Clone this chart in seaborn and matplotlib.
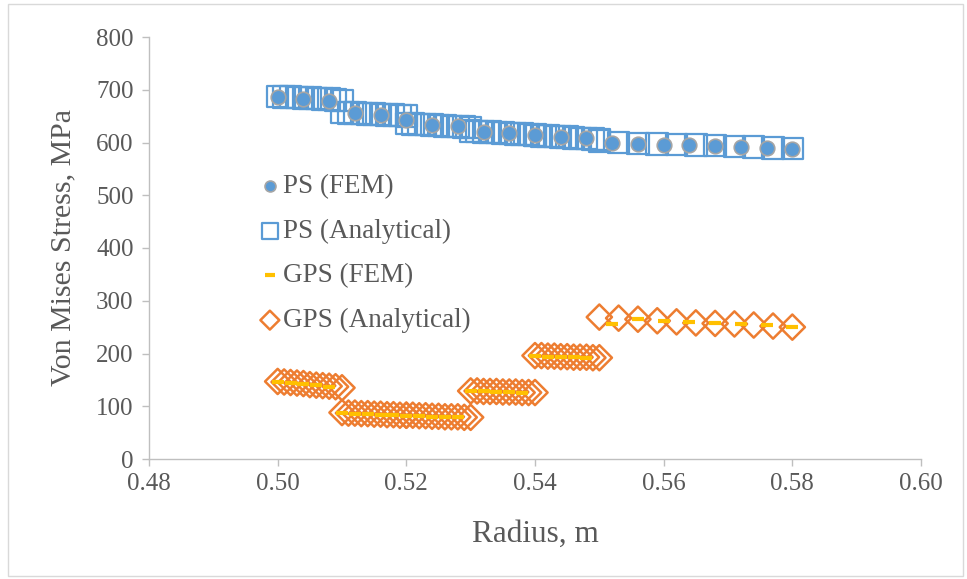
import matplotlib
matplotlib.use("Agg")
import matplotlib.pyplot as plt
import seaborn as sns
import pandas as pd
from matplotlib.patches import Rectangle

# ---------------- data ----------------
ps_fem_x = [0.500, 0.504, 0.508, 0.512, 0.516, 0.520, 0.524, 0.528, 0.532, 0.536, 0.540,
            0.544, 0.548, 0.552, 0.556, 0.560, 0.564, 0.568, 0.572, 0.576, 0.580]
ps_fem_y = [686, 683, 679, 655, 653, 643, 633, 631, 620, 618, 614,
            611, 608, 600, 598, 596, 595, 594, 591, 590, 588]

ana_x = [0.500, 0.501, 0.502, 0.503, 0.504, 0.505, 0.506, 0.507, 0.508, 0.509, 0.510,
         0.510, 0.511, 0.512, 0.513, 0.514, 0.515, 0.516, 0.517, 0.518, 0.519, 0.520,
         0.520, 0.521, 0.522, 0.523, 0.524, 0.525, 0.526, 0.527, 0.528, 0.529, 0.530,
         0.530, 0.531, 0.532, 0.533, 0.534, 0.535, 0.536, 0.537, 0.538, 0.539, 0.540,
         0.540, 0.541, 0.542, 0.543, 0.544, 0.545, 0.546, 0.547, 0.548, 0.549, 0.550,
         0.550, 0.553, 0.556, 0.559, 0.562, 0.565, 0.568, 0.571, 0.574, 0.577, 0.580]
ps_ana_y = [687, 686, 686, 685, 684, 684, 683, 682, 682, 681, 680,
            657, 656, 656, 655, 654, 654, 653, 652, 652, 651, 650,
            636, 635, 634, 634, 633, 632, 631, 630, 630, 629, 628,
            622, 621, 620, 620, 619, 618, 617, 616, 616, 615, 614,
            613, 612, 612, 611, 610, 610, 609, 608, 608, 607, 606,
            603, 600, 598, 597, 596, 595, 594, 592, 591, 590, 589]
gps_ana_y = [147, 146, 145, 144, 143, 141, 140, 139, 138, 137, 135,
             88, 87, 87, 86, 86, 85, 85, 84, 84, 83, 83,
             83, 83, 82, 82, 81, 81, 80, 80, 80, 79, 79,
             129, 129, 128, 128, 128, 127, 127, 127, 126, 126, 126,
             196, 196, 195, 195, 194, 194, 193, 193, 193, 192, 192,
             269, 267, 265, 262, 260, 258, 257, 256, 254, 252, 250]

gps_fem_x = [0.500, 0.502, 0.504, 0.506, 0.508, 0.510, 0.512, 0.514, 0.516, 0.518,
             0.520, 0.522, 0.524, 0.526, 0.528, 0.530, 0.532, 0.534, 0.536, 0.538,
             0.540, 0.542, 0.544, 0.546, 0.548,
             0.552, 0.556, 0.560, 0.564, 0.568, 0.572, 0.576, 0.580]
gps_fem_y = [146, 144, 142, 140, 137, 87, 86, 85, 84, 83,
             82, 81, 80, 80, 79, 128, 128, 127, 127, 126,
             195, 194, 193, 193, 192,
             255, 265, 262, 260, 258, 256, 254, 251]

x_ticks = [0.48, 0.50, 0.52, 0.54, 0.56, 0.58, 0.60]
y_ticks = [0, 100, 200, 300, 400, 500, 600, 700, 800]
labels = ["PS (FEM)", "PS (Analytical)", "GPS (FEM)", "GPS (Analytical)"]

# ---------------- style ----------------
sns.set_style("white")
plt.rcParams["font.family"] = ["Liberation Serif", "DejaVu Serif"]
GRAY = "#595959"
BLUE = "#5B9BD5"
ORANGE = "#ED7D31"
YELLOW = "#FFC000"

fig = plt.figure(figsize=(9.67, 5.79), dpi=100)
fig.patches.append(Rectangle((8 / 967, 3 / 579), 955 / 967, 572 / 579,
                             transform=fig.transFigure, fill=False,
                             edgecolor="#D9D9D9", linewidth=1))
ax = fig.add_axes([149 / 967, 120 / 579, 772 / 967, 422 / 579])

df_ps_fem = pd.DataFrame({"x": ps_fem_x, "y": ps_fem_y})
df_ana = pd.DataFrame({"x": ana_x, "ps": ps_ana_y, "gps": gps_ana_y})
df_gps_fem = pd.DataFrame({"x": gps_fem_x, "y": gps_fem_y})

sns.scatterplot(data=df_ana, x="x", y="ps", ax=ax, marker="s", s=240,
                facecolor="none", edgecolor=BLUE, linewidth=1.6,
                label=labels[1], zorder=2)
sns.scatterplot(data=df_ana, x="x", y="gps", ax=ax, marker="D", s=165,
                facecolor="none", edgecolor=ORANGE, linewidth=1.8,
                label=labels[3], zorder=2)
sns.scatterplot(data=df_ps_fem, x="x", y="y", ax=ax, marker="o", s=110,
                color=BLUE, edgecolor="#A5A5A5", linewidth=1.2,
                label=labels[0], zorder=3)
sns.scatterplot(data=df_gps_fem, x="x", y="y", ax=ax, marker="_", s=80,
                color=YELLOW, linewidth=3, label=labels[2], zorder=3)

ax.set_xlim(0.48, 0.60)
ax.set_ylim(0, 800)
ax.set_xticks(x_ticks)
ax.set_xticklabels([f"{v:.2f}" for v in x_ticks])
ax.set_yticks(y_ticks)
ax.set_yticklabels([str(v) for v in y_ticks])
ax.tick_params(axis="both", colors="#BFBFBF", labelcolor=GRAY, labelsize=18,
               length=5, width=1, direction="out", left=True, bottom=True)
ax.tick_params(axis="y", pad=6)
ax.tick_params(axis="x", pad=5)
for side in ["top", "right"]:
    ax.spines[side].set_visible(False)
for side in ["left", "bottom"]:
    ax.spines[side].set_color("#BFBFBF")
    ax.spines[side].set_linewidth(1)

ax.set_xlabel("Radius, m", fontsize=22.5, color=GRAY, labelpad=18)
ax.set_ylabel("Von Mises Stress, MPa", fontsize=21.5, color=GRAY, labelpad=14)

handles, labs = ax.get_legend_handles_labels()
order = [labs.index(l) for l in labels]
leg = ax.legend([handles[i] for i in order], [labs[i] for i in order],
                loc="upper left", bbox_to_anchor=(0.132, 0.70), frameon=False,
                fontsize=19.5, labelcolor=GRAY, markerscale=0.75,
                handlelength=0.6, handletextpad=0.2, labelspacing=0.72,
                borderaxespad=0)

fig.savefig("out.png", dpi=100)
